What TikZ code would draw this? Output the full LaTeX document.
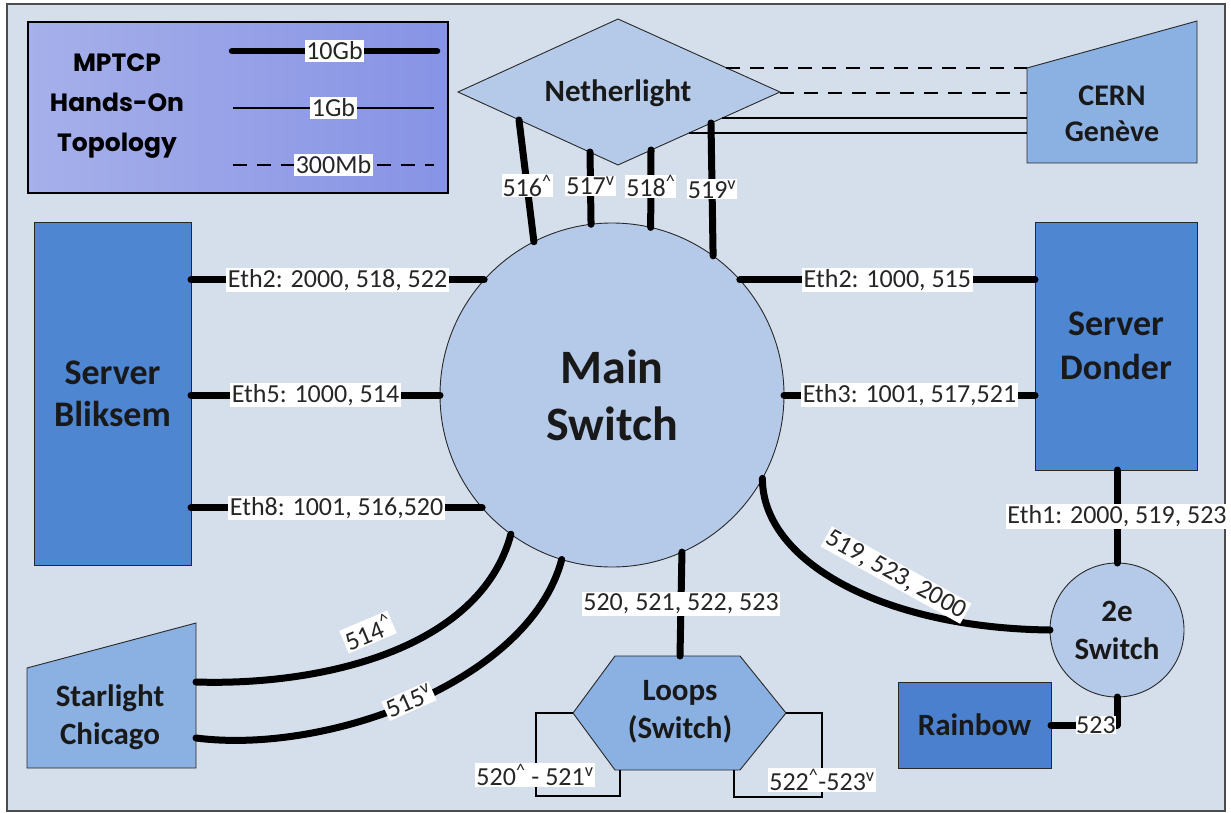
\documentclass[tikz,border=0pt]{standalone}
\usepackage{fontspec}
\setmainfont{Carlito}
\newfontfamily\titlefont{Poppins}
\usetikzlibrary{calc}
\definecolor{bgc}{RGB}{213,223,235}
\definecolor{srv}{RGB}{79,134,210}
\definecolor{rbw}{RGB}{74,128,206}
\definecolor{midc}{RGB}{139,176,226}
\definecolor{litec}{RGB}{181,202,233}
\definecolor{legl}{RGB}{166,176,234}
\definecolor{legr}{RGB}{135,147,229}
\definecolor{edgec}{RGB}{40,40,40}
\begin{document}
\begin{tikzpicture}[x=1pt,y=-1pt,
  lbl/.style={fill=white, inner sep=1.5pt, font=\fontsize{26}{28}\selectfont, text=black!85},
  bigtxt/.style={font=\fontsize{31}{38}\selectfont\bfseries, align=center, text=black!90},
  tenG/.style={line width=7pt, line cap=round, line join=round},
  oneG/.style={line width=1.3pt},
  dashG/.style={line width=2pt, dash pattern=on 14pt off 10pt},
  outl/.style={draw=edgec, line width=0.9pt},
  boxnode/.style={outl, rectangle, inner sep=0pt, outer sep=0pt},
  circnode/.style={outl, circle, fill=litec, inner sep=0pt, outer sep=0pt}
]
\useasboundingbox (0,0) rectangle (1231,813);
\fill[white] (0,0) rectangle (1231,813);
\draw[fill=bgc, draw=black!70, line width=1.2pt] (7,4) rectangle (1225,811);

% legend
\shade[left color=legl, right color=legr] (28,22) rectangle (448,193);
\draw[line width=1.5pt] (28,22) rectangle (448,193);
\node[font=\titlefont\bfseries\fontsize{25}{40}\selectfont, align=center] (title) at (117,106) {MPTCP\\Hands-On\\Topology};
\coordinate (l1a) at (232,51); \coordinate (l1b) at (437,51);
\coordinate (l2a) at (233,108); \coordinate (l2b) at (434,108);
\coordinate (l3a) at (233,165); \coordinate (l3b) at (434,165);
\draw[tenG, line width=6.5pt] (l1a) -- node[lbl]{10Gb} (l1b);
\draw[oneG] (l2a) -- node[lbl]{1Gb} (l2b);
\draw[dashG] (l3a) -- node[lbl]{300Mb} (l3b);

% Netherlight diamond
\filldraw[fill=litec, outl] (458,92) -- (618,19) -- (780,92) -- (618,165) -- cycle;
\node[bigtxt] (net) at (618,93) {Netherlight};
\coordinate (n1) at (519,120); \coordinate (n2) at (590,152);
\coordinate (n3) at (651,150); \coordinate (n4) at (711,123);
\coordinate (nd1) at (726,68); \coordinate (nd2) at (780,93);
\coordinate (ns1) at (722,118); \coordinate (ns2) at (689,133);

% CERN
\filldraw[fill=midc, outl] (1027,68) -- (1197,21) -- (1197,163) -- (1027,163) -- cycle;
\node[bigtxt, font=\fontsize{30}{36}\selectfont\bfseries] (cern) at (1112,114) {CERN\\Genève};
\coordinate (c1) at (1027,68); \coordinate (c2) at (1027,93);
\coordinate (c3) at (1027,118); \coordinate (c4) at (1027,133);

% Starlight
\filldraw[fill=midc, outl] (27,668) -- (196,623) -- (196,768) -- (27,768) -- cycle;
\node[bigtxt] (star) at (110,717) {Starlight\\Chicago};
\coordinate (s1) at (196,682); \coordinate (s2) at (196,738);

% main switch
\node[circnode, minimum size=344pt] (main) at (612,395) {};
\node[font=\fontsize{48}{57}\selectfont\bfseries, align=center, text=black!90] at (main.center) {Main\\Switch};

% servers
\node[boxnode, fill=srv, minimum width=157pt, minimum height=343pt, font=\fontsize{36}{42}\selectfont\bfseries, align=center, text=black!90] (blik) at (112.5,393.5) {Server\\Bliksem};
\node[boxnode, fill=srv, minimum width=162pt, minimum height=248pt, font=\fontsize{36}{44}\selectfont\bfseries, align=center, text=black!90] (don) at (1116,346) {Server\\Donder};
\node[boxnode, fill=rbw, minimum width=153pt, minimum height=86pt, bigtxt] (rain) at (974.5,725) {Rainbow};
\node[circnode, minimum size=134pt, bigtxt] (sw) at (1117,630) {2e\\Switch};

% loops hexagon
\filldraw[fill=midc, outl] (573,713) -- (615,656) -- (740,656) -- (786,713) -- (740,770) -- (615,770) -- cycle;
\node[bigtxt] (loops) at (680,712) {Loops\\(Switch)};
\coordinate (hl) at (573,713); \coordinate (hr) at (786,713);
\coordinate (hbl) at (620,770); \coordinate (hbr) at (734,770);
\coordinate (ht) at (680,656);

% Netherlight - CERN
\draw[dashG] (nd1) -- (c1);
\draw[dashG] (nd2) -- (c2);
\draw[oneG] (ns1) -- (c3);
\draw[oneG] (ns2) -- (c4);

% Netherlight - main
\draw[tenG] (n1) -- node[lbl, pos=0.54, inner sep=1pt]{516\textsuperscript{\textasciicircum}} (main.117.5);
\draw[tenG] (n2) -- node[lbl, pos=0.47, inner sep=1pt]{517\textsuperscript{v}} (main.97);
\draw[tenG] (n3) -- node[lbl, pos=0.47, inner sep=1pt]{518\textsuperscript{\textasciicircum}} (main.77);
\draw[tenG] (n4) -- node[lbl, pos=0.5, inner sep=1pt]{519\textsuperscript{v}} (main.54.85);

% Bliksem - main
\coordinate (b2) at (blik.east |- main.138);
\coordinate (b5) at (blik.east |- main.west);
\coordinate (b8) at (blik.east |- main.221);
\draw[tenG] (b2) -- node[lbl]{Eth2: 2000, 518, 522} (main.138);
\draw[tenG] (b5) -- node[lbl]{Eth5: 1000, 514} (main.west);
\draw[tenG] (b8) -- node[lbl]{Eth8: 1001, 516,520} (main.221);

% Donder - main
\coordinate (d2) at (don.west |- main.42);
\coordinate (d3) at (don.west |- main.east);
\draw[tenG] (main.42) -- node[lbl]{Eth2: 1000, 515} (d2);
\draw[tenG] (main.east) -- node[lbl]{Eth3: 1001, 517,521} (d3);

% Donder - 2e switch
\coordinate (d1) at (sw.north |- don.south);
\draw[tenG] (d1) -- node[lbl]{Eth1: 2000, 519, 523} (sw.north);

% main - 2e switch
\draw[tenG] (main.-29.5) .. controls (762,560) and (880,628) .. (sw.west);
\node[lbl, rotate=-29] at (896,575) {519, 523, 2000};

% Rainbow - 2e switch
\coordinate (rc) at (sw.south |- rain.east);
\draw[tenG] (rain.east) -- (rc) -- (sw.south);
\node[lbl, inner sep=0.5pt] at (1096,725) {523};

% main - loops
\draw[tenG] (main.-66.7) -- node[lbl]{520, 521, 522, 523} (ht);

% loops self connections
\draw[oneG] (hl) -- (536,713) -- (536,796) -- (620,796) -- (hbl);
\draw[oneG] (hr) -- (822,713) -- (822,797) -- (734,797) -- (hbr);
\node[lbl] at (535,775) {520\textsuperscript{\textasciicircum} - 521\textsuperscript{v}};
\node[lbl] at (822,780) {522\textsuperscript{\textasciicircum}-523\textsuperscript{v}};

% Starlight - main
\draw[tenG] (s1) .. controls (320,686) and (480,650) .. (main.-126);
\draw[tenG] (s2) .. controls (330,755) and (530,680) .. (main.-107.5);
\node[lbl, rotate=23] at (368,632) {514\textsuperscript{\textasciicircum}};
\node[lbl, rotate=24] at (409,701) {515\textsuperscript{v}};
\end{tikzpicture}
\end{document}
